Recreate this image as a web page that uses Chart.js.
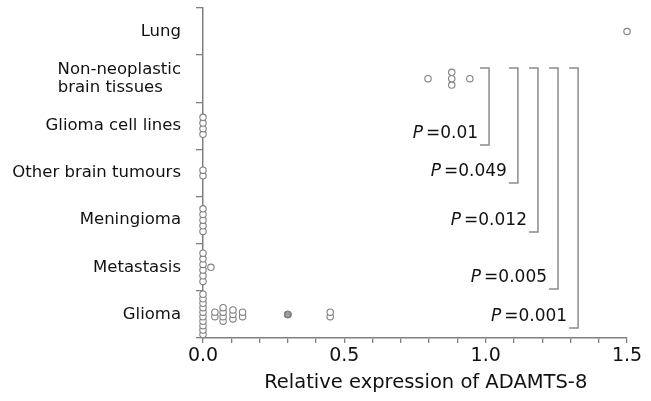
<!DOCTYPE html>
<html><head><meta charset="utf-8">
<script src="https://cdn.jsdelivr.net/npm/chart.js@4.4.1/dist/chart.umd.min.js"></script>
<style>html,body{margin:0;padding:0;background:#fff;}canvas{display:block;}</style>
</head><body>
<canvas id="c" width="651" height="401"></canvas>
<script>
// ---- data ----
const categories = ['Glioma', 'Metastasis', 'Meningioma', 'Other brain tumours', 'Glioma cell lines', ['Non-neoplastic', 'brain tissues\u2003\u200a'], 'Lung'];
const glioma = [0,0,0,0,0,0,0,0,0,0, 0.042,0.042, 0.071,0.071,0.071,0.071, 0.106,0.106,0.106, 0.14,0.14, 0.45,0.45];
const gliomaCoincident = [0.30, 0.30, 0.30];
const metastasis = [0,0,0,0,0,0, 0.028];
const meningioma = [0,0,0,0,0];
const otherTumours = [0,0];
const cellLines = [0,0,0,0];
const nonNeoplastic = [0.796, 0.88, 0.88, 0.88, 0.944];
const lung = [1.5];
const xTickValues = [0,0.1,0.2,0.3,0.4,0.5,0.6,0.7,0.8,0.9,1.0,1.1,1.2,1.3,1.4,1.5];
const xTickLabels = ['0.0','','','','','0.5','','','','','1.0','','','','','1.5'];
const pValues = ['0.01', '0.049', '0.012', '0.005', '0.001'];
const xTitle = 'Relative expression of ADAMTS-8';

// ---- layout / style (not data) ----
const stackGap = {0: 0.095, 5: 0.135};
const defaultGap = 0.12;
const bracketLayout = [
  {x: 1.012, top: 5.227, bottom: 3.594},
  {x: 1.114, top: 5.227, bottom: 2.788},
  {x: 1.185, top: 5.227, bottom: 1.748},
  {x: 1.256, top: 5.227, bottom: 0.539},
  {x: 1.327, top: 5.227, bottom: -0.288}
];
const FONT = '"DejaVu Sans", sans-serif';
const GREY = '#808080';

function stack(values, cat) {
  const gap = stackGap[cat] !== undefined ? stackGap[cat] : defaultGap;
  const counts = {}, seen = {};
  values.forEach(v => { counts[v] = (counts[v] || 0) + 1; });
  return values.map(v => {
    const n = counts[v]; const k = seen[v] || 0; seen[v] = k + 1;
    return {x: v, y: cat + (k - (n - 1) / 2) * gap};
  });
}

const groups = [glioma, metastasis, meningioma, otherTumours, cellLines, nonNeoplastic, lung];
let pts = [];
groups.forEach((g, i) => { pts = pts.concat(stack(g, i)); });
const coincident = gliomaCoincident.map(v => ({x: v, y: 0}));

const bracketPlugin = {
  id: 'brackets',
  afterDatasetsDraw(chart) {
    const {ctx, scales: {x, y}} = chart;
    ctx.save();
    ctx.strokeStyle = '#8c8c8c';
    ctx.lineWidth = 1.5;
    bracketLayout.forEach((b, i) => {
      const px = x.getPixelForValue(b.x);
      const top = y.getPixelForValue(b.top);
      const bot = y.getPixelForValue(b.bottom);
      ctx.beginPath();
      ctx.moveTo(px - 9, top); ctx.lineTo(px, top); ctx.lineTo(px, bot); ctx.lineTo(px - 9, bot);
      ctx.stroke();
      const tx = px - 11, ty = bot - 11;
      ctx.fillStyle = '#111';
      ctx.textBaseline = 'middle';
      ctx.textAlign = 'right';
      ctx.font = '17px ' + FONT;
      const reg = '=' + pValues[i];
      ctx.fillText(reg, tx, ty);
      const w = ctx.measureText(reg).width;
      ctx.font = 'italic 17px ' + FONT;
      ctx.fillText('P', tx - w - 3, ty);
    });
    ctx.restore();
  }
};

new Chart(document.getElementById('c'), {
  type: 'scatter',
  data: {
    datasets: [
      {data: pts, pointRadius: 3.2, pointBorderWidth: 1.1, borderColor: GREY, backgroundColor: '#fff', pointHoverRadius: 3.2, clip: false},
      {data: coincident, pointRadius: 3.2, pointBorderWidth: 1.1, borderColor: GREY, backgroundColor: 'rgba(120,120,120,0.35)', clip: false}
    ]
  },
  options: {
    responsive: false,
    animation: false,
    devicePixelRatio: 1,
    layout: {padding: {left: 0, right: 24, top: 8, bottom: 0}},
    plugins: {legend: {display: false}, tooltip: {enabled: false}},
    scales: {
      x: {
        type: 'linear', min: 0, max: 1.5,
        afterBuildTicks(s) { s.ticks = xTickValues.map(v => ({value: v})); },
        afterFit(s) { s.height = 63; s.paddingLeft = 0; s.paddingRight = 0; },
        ticks: {
          autoSkip: false, maxRotation: 0, padding: 2, color: '#111',
          font: {family: FONT, size: 19},
          callback: (v, i) => xTickLabels[i]
        },
        grid: {drawOnChartArea: false, drawTicks: true, tickLength: 5, color: GREY, lineWidth: 1.3},
        border: {display: true, color: GREY, width: 1.5},
        title: {display: true, text: '\u2003\u200a' + xTitle, color: '#111', font: {family: FONT, size: 19.5}, padding: {top: 0, bottom: 6}}
      },
      y: {
        type: 'linear', min: -0.5, max: 6.5,
        afterBuildTicks(s) { s.ticks = categories.map((c, i) => ({value: i})); },
        afterFit(s) { s.width = 203; s.paddingTop = 0; s.paddingBottom = 0; },
        ticks: {
          autoSkip: false, padding: 15, color: '#111',
          font: {family: FONT, size: 16.5, lineHeight: 1.05},
          callback: (v, i) => categories[i]
        },
        grid: {drawOnChartArea: false, drawTicks: true, tickLength: 7, color: GREY, lineWidth: 1.3, offset: true},
        border: {display: true, color: GREY, width: 1.5}
      }
    }
  },
  plugins: [bracketPlugin]
});
</script>
</body></html>
